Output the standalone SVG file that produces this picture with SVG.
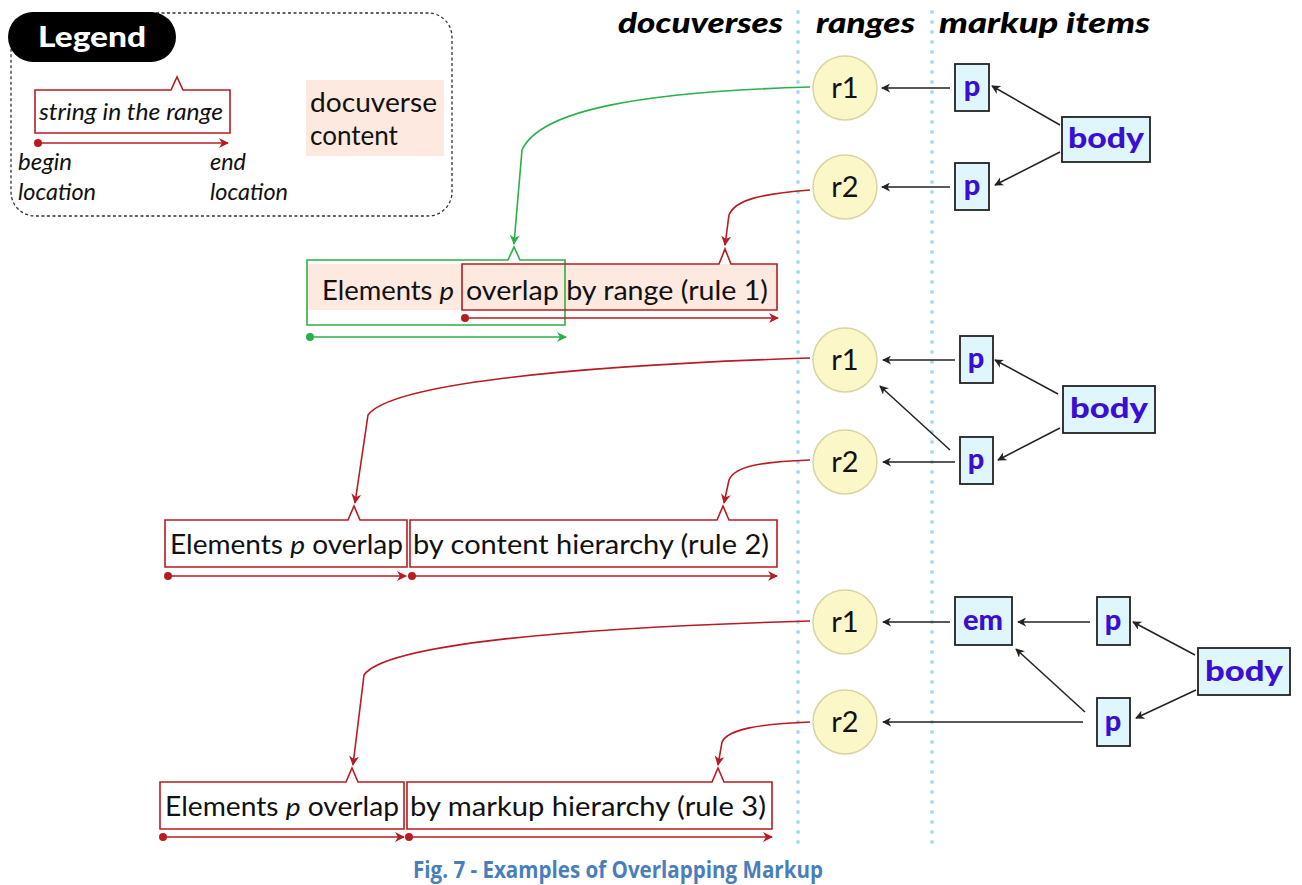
<svg xmlns="http://www.w3.org/2000/svg" width="1302" height="885" viewBox="0 0 1302 885">
<defs>
<style>
.hdr{font-family:Lato,"Liberation Sans",sans-serif;font-weight:900;font-style:italic;font-size:28px;fill:#000}
.circ{fill:#fbf7c8;stroke:#d9d4a2;stroke-width:1.5}
.ctxt{font-family:Lato,"Liberation Sans",sans-serif;font-size:29px;fill:#111;text-anchor:middle}
.mbox{fill:#e0f6fd;stroke:#222;stroke-width:1.8}
.mtxt{font-family:Lato,"Liberation Sans",sans-serif;font-weight:900;font-size:29px;fill:#3b0fd2;text-anchor:middle}
.blk{stroke:#222;stroke-width:1.5;fill:none;marker-end:url(#ab)}
.red{stroke:#b81c22;stroke-width:1.6;fill:none}
.grn{stroke:#2bb04a;stroke-width:1.6;fill:none}
.pink{fill:#fde9df}
.cont{font-family:Lato,"Open Sans","Liberation Sans",sans-serif;font-size:26px;fill:#111}
.leg{font-family:Lato,"Open Sans","Liberation Sans",sans-serif;font-size:23px;font-style:italic;fill:#111}
.dots{stroke:#a9dcf3;stroke-width:4;stroke-linecap:round;stroke-dasharray:0 10}
</style>
<marker id="ab" viewBox="0 0 10 10" refX="9" refY="5" markerWidth="9" markerHeight="9" markerUnits="userSpaceOnUse" orient="auto"><path d="M0,0 L10,5 L0,10 L3,5 Z" fill="#222"/></marker>
<marker id="ar" viewBox="0 0 10 10" refX="9" refY="5" markerWidth="10" markerHeight="10" markerUnits="userSpaceOnUse" orient="auto"><path d="M0,0 L10,5 L0,10 L3,5 Z" fill="#b81c22"/></marker>
<marker id="ag" viewBox="0 0 10 10" refX="9" refY="5" markerWidth="10" markerHeight="10" markerUnits="userSpaceOnUse" orient="auto"><path d="M0,0 L10,5 L0,10 L3,5 Z" fill="#2bb04a"/></marker>
<marker id="dr" viewBox="0 0 10 10" refX="5" refY="5" markerWidth="8" markerHeight="8" markerUnits="userSpaceOnUse" orient="auto"><circle cx="5" cy="5" r="5" fill="#b81c22"/></marker>
<marker id="dg" viewBox="0 0 10 10" refX="5" refY="5" markerWidth="8" markerHeight="8" markerUnits="userSpaceOnUse" orient="auto"><circle cx="5" cy="5" r="5" fill="#2bb04a"/></marker>
</defs>
<rect width="1302" height="885" fill="#fff"/>

<!-- column separators -->
<line class="dots" x1="798" y1="12" x2="798" y2="850"/>
<line class="dots" x1="932" y1="12" x2="932" y2="850"/>

<!-- headers -->
<text class="hdr" x="618" y="33" textLength="165" lengthAdjust="spacingAndGlyphs">docuverses</text>
<text class="hdr" x="816" y="33" textLength="99" lengthAdjust="spacingAndGlyphs">ranges</text>
<text class="hdr" x="939" y="33" textLength="211" lengthAdjust="spacingAndGlyphs">markup items</text>

<!-- legend -->
<g id="legend">
<rect x="11" y="13" width="441" height="203" rx="24" fill="none" stroke="#333" stroke-width="1.3" stroke-dasharray="3 2.5"/>
<rect x="8" y="12" width="168" height="50" rx="25" fill="#000"/>
<text x="38" y="47" font-family="Lato,'Liberation Sans',sans-serif" font-weight="900" font-size="28" fill="#fff" textLength="108" lengthAdjust="spacingAndGlyphs">Legend</text>
<path d="M35,90 H171 L177,77 L183,90 H230 V133 H35 Z" fill="#fff" stroke="#b81c22" stroke-width="1.6"/>
<text class="leg" x="39" y="120" font-size="22" textLength="184" lengthAdjust="spacingAndGlyphs">string in the range</text>
<line class="red" x1="38" y1="143" x2="228" y2="143" marker-start="url(#dr)" marker-end="url(#ar)"/>
<text class="leg" x="18" y="170" textLength="54" lengthAdjust="spacingAndGlyphs">begin</text>
<text class="leg" x="18" y="200" textLength="78" lengthAdjust="spacingAndGlyphs">location</text>
<text class="leg" x="210" y="170" textLength="36" lengthAdjust="spacingAndGlyphs">end</text>
<text class="leg" x="210" y="200" textLength="78" lengthAdjust="spacingAndGlyphs">location</text>
<rect class="pink" x="306" y="80" width="138" height="76"/>
<text class="cont" x="310" y="112" textLength="127" lengthAdjust="spacingAndGlyphs">docuverse</text>
<text class="cont" x="310" y="145">content</text>
</g>

<!-- section 1 content -->
<g id="doc1">
<rect class="pink" x="307" y="264" width="470" height="46"/>
<path class="grn" d="M307,260 H508 L514,247 L520,260 H565 V325 H307 Z"/>
<path class="red" d="M462,264 H719 L725,249 L731,264 H777 V310 H462 Z"/>
<text class="cont" x="322" y="300" textLength="132" lengthAdjust="spacingAndGlyphs">Elements <tspan font-style="italic">p</tspan></text>
<text class="cont" x="466" y="300" textLength="302" lengthAdjust="spacingAndGlyphs">overlap by range (rule 1)</text>
<line class="red" x1="465" y1="318" x2="778" y2="318" marker-start="url(#dr)" marker-end="url(#ar)"/>
<line class="grn" x1="310" y1="337" x2="566" y2="337" marker-start="url(#dg)" marker-end="url(#ag)"/>
</g>

<!-- section 2 content -->
<g id="doc2">
<path class="red" d="M165,520 H348 L354,506 L360,520 H407 V567 H165 Z" fill="#fde9df"/>
<path class="red" d="M410,520 H717 L723,506 L729,520 H777 V567 H410 Z" fill="#fde9df"/>
<text class="cont" x="170" y="554" textLength="233" lengthAdjust="spacingAndGlyphs">Elements <tspan font-style="italic">p</tspan> overlap</text>
<text class="cont" x="413" y="554" textLength="356" lengthAdjust="spacingAndGlyphs">by content hierarchy (rule 2)</text>
<line class="red" x1="168" y1="576" x2="406" y2="576" marker-start="url(#dr)" marker-end="url(#ar)"/>
<line class="red" x1="412" y1="576" x2="777" y2="576" marker-start="url(#dr)" marker-end="url(#ar)"/>
</g>

<!-- section 3 content -->
<g id="doc3">
<path class="red" d="M160,782 H346 L352,768 L358,782 H404 V829 H160 Z" fill="#fde9df"/>
<path class="red" d="M407,782 H712 L718,768 L724,782 H772 V829 H407 Z" fill="#fde9df"/>
<text class="cont" x="165" y="816" textLength="234" lengthAdjust="spacingAndGlyphs">Elements <tspan font-style="italic">p</tspan> overlap</text>
<text class="cont" x="410" y="816" textLength="356" lengthAdjust="spacingAndGlyphs">by markup hierarchy (rule 3)</text>
<line class="red" x1="163" y1="837" x2="404" y2="837" marker-start="url(#dr)" marker-end="url(#ar)"/>
<line class="red" x1="409" y1="837" x2="772" y2="837" marker-start="url(#dr)" marker-end="url(#ar)"/>
</g>

<!-- connectors -->
<g id="connectors">
<path class="grn" d="M810,87 C640,92 540,110 522,150 L514,244" marker-end="url(#ag)"/>
<path class="red" d="M810,190 C760,194 735,200 729,215 L725,245" marker-end="url(#ar)"/>
<path class="red" d="M810,358 C560,366 390,385 368,415 L355,503" marker-end="url(#ar)"/>
<path class="red" d="M810,460 C760,462 735,466 729,480 L724,503" marker-end="url(#ar)"/>
<path class="red" d="M810,621 C560,628 385,645 364,675 L353,765" marker-end="url(#ar)"/>
<path class="red" d="M810,722 C760,724 728,729 722,742 L718,765" marker-end="url(#ar)"/>

<line class="blk" x1="950" y1="88" x2="882" y2="88"/>
<line class="blk" x1="950" y1="187" x2="882" y2="187"/>
<line class="blk" x1="1060" y1="125" x2="992" y2="86"/>
<line class="blk" x1="1060" y1="152" x2="995" y2="185"/>

<line class="blk" x1="955" y1="360" x2="883" y2="360"/>
<line class="blk" x1="955" y1="462" x2="883" y2="462"/>
<line class="blk" x1="950" y1="450" x2="880" y2="386"/>
<line class="blk" x1="1058" y1="394" x2="995" y2="360"/>
<line class="blk" x1="1060" y1="428" x2="998" y2="460"/>

<line class="blk" x1="950" y1="622" x2="883" y2="622"/>
<line class="blk" x1="1090" y1="622" x2="1018" y2="622"/>
<line class="blk" x1="1195" y1="655" x2="1133" y2="622"/>
<line class="blk" x1="1196" y1="690" x2="1136" y2="718"/>
<line class="blk" x1="1085" y1="712" x2="1016" y2="649"/>
<line class="blk" x1="1083" y1="722" x2="883" y2="722"/>
</g>

<!-- range nodes -->
<g id="s1r1"><circle class="circ" cx="845" cy="88" r="32"/><text class="ctxt" x="845" y="98">r1</text></g>
<g id="s1r2"><circle class="circ" cx="845" cy="187" r="32"/><text class="ctxt" x="845" y="197">r2</text></g>
<g id="s2r1"><circle class="circ" cx="845" cy="360" r="32"/><text class="ctxt" x="845" y="370">r1</text></g>
<g id="s2r2"><circle class="circ" cx="845" cy="462" r="32"/><text class="ctxt" x="845" y="472">r2</text></g>
<g id="s3r1"><circle class="circ" cx="845" cy="622" r="32"/><text class="ctxt" x="845" y="632">r1</text></g>
<g id="s3r2"><circle class="circ" cx="845" cy="722" r="32"/><text class="ctxt" x="845" y="732">r2</text></g>

<!-- markup nodes -->
<g id="s1p1"><rect class="mbox" x="955" y="64" width="34" height="47"/><text class="mtxt" x="972" y="96">p</text></g>
<g id="s1p2"><rect class="mbox" x="955" y="163" width="34" height="47"/><text class="mtxt" x="972" y="195">p</text></g>
<g id="s1body"><rect class="mbox" x="1062" y="117" width="88" height="45"/><text class="mtxt" x="1106" y="148" textLength="76" lengthAdjust="spacingAndGlyphs">body</text></g>

<g id="s2p1"><rect class="mbox" x="960" y="336" width="33" height="47"/><text class="mtxt" x="976" y="368">p</text></g>
<g id="s2p2"><rect class="mbox" x="960" y="437" width="33" height="47"/><text class="mtxt" x="976" y="469">p</text></g>
<g id="s2body"><rect class="mbox" x="1063" y="386" width="92" height="47"/><text class="mtxt" x="1109" y="418" textLength="78" lengthAdjust="spacingAndGlyphs">body</text></g>

<g id="s3em"><rect class="mbox" x="955" y="597" width="57" height="48"/><text class="mtxt" x="983" y="630">em</text></g>
<g id="s3p1"><rect class="mbox" x="1097" y="597" width="33" height="48"/><text class="mtxt" x="1113" y="630">p</text></g>
<g id="s3body"><rect class="mbox" x="1198" y="648" width="92" height="47"/><text class="mtxt" x="1244" y="681" textLength="78" lengthAdjust="spacingAndGlyphs">body</text></g>
<g id="s3p2"><rect class="mbox" x="1097" y="698" width="33" height="48"/><text class="mtxt" x="1113" y="731">p</text></g>

<text x="618" y="878" text-anchor="middle" font-family="'Open Sans','Liberation Sans',sans-serif" font-weight="bold" font-size="23" fill="#4a7ebb" textLength="410" lengthAdjust="spacingAndGlyphs">Fig. 7 - Examples of Overlapping Markup</text>
</svg>
